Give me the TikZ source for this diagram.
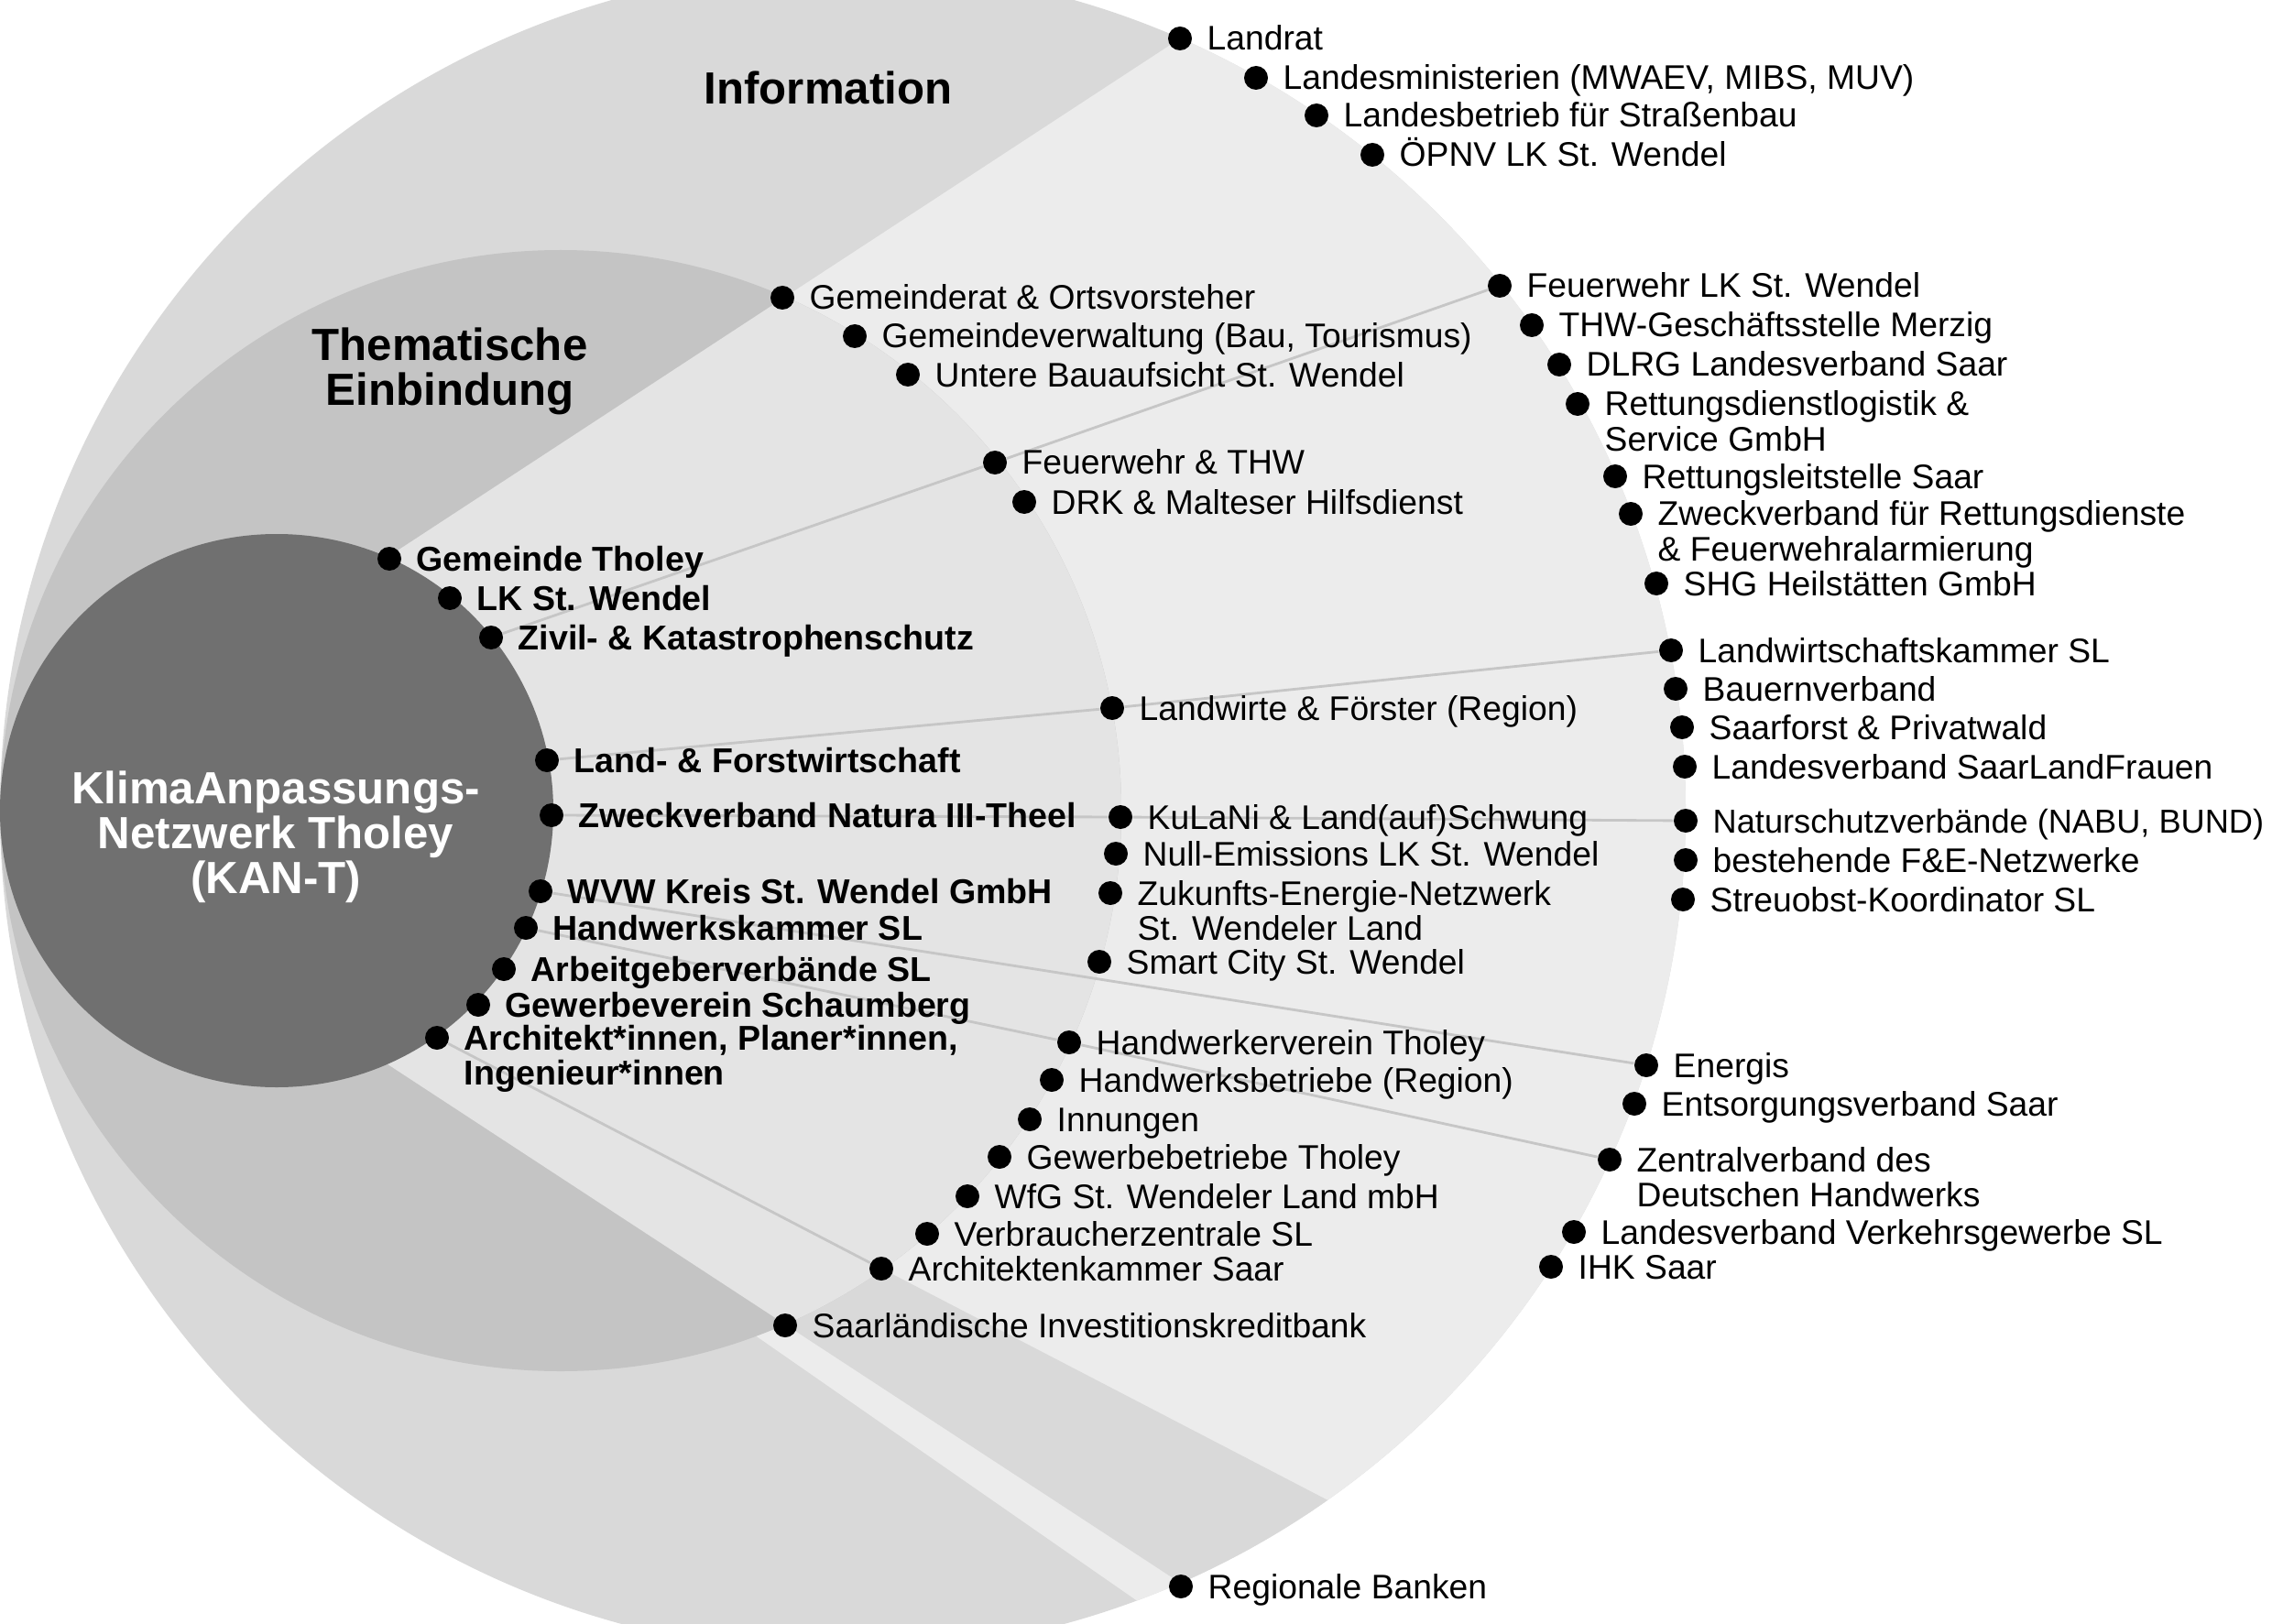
\documentclass[tikz,border=0pt]{standalone}
\usepackage{fontspec}
\setmainfont{Liberation Sans}

\definecolor{coregray}{HTML}{707070}
\definecolor{themgray}{HTML}{C4C4C4}
\definecolor{infogray}{HTML}{D9D9D9}
\definecolor{innersec}{HTML}{E4E4E4}
\definecolor{outersec}{HTML}{ECECEC}
\definecolor{linkgray}{HTML}{C6C6C6}

\newcommand{\lblfont}{\fontsize{10.6}{10.6}\selectfont}
\newcommand{\lblbfont}{\fontsize{10.7}{10.8}\selectfont\bfseries}
\newcommand{\ttlfont}{\fontsize{14}{13.9}\selectfont\bfseries}
\newcommand{\twolines}[2]{\begin{tabular}[t]{@{}l@{}}#1\\#2\end{tabular}}

\begin{document}
\begin{tikzpicture}[
    dot/.style={circle, fill=black, inner sep=0pt, minimum size=0.26cm},
    lbl/.style={anchor=base west, xshift=0.29cm, yshift=-0.13cm, inner sep=0pt, font=\lblfont},
    lblb/.style={lbl, font=\lblbfont},
    ttl/.style={align=center, inner sep=0pt, font=\ttlfont},
    link/.style={draw=linkgray, line width=0.8pt}
  ]
    \useasboundingbox (0,-8.87) rectangle (24.80,8.85);
    \clip (0,-8.87) rectangle (24.80,8.85);

    % Rings:
    % all three circles touch in (0,0), the sectors start there too
    \fill[infogray] (9.2,0) circle[radius=9.2];
    \begin{scope}
    \clip (9.2,0) circle[radius=9.2];
    \fill[outersec] (0,0) -- (33.2:30) -- (-34.8:30) -- cycle;
    \fill[infogray] (0,0) -- (-27.45:30) -- (-33.2:30) -- cycle;
    \end{scope}
    \fill[themgray] (6.12,0) circle[radius=6.12];
    \begin{scope}
    \clip (6.12,0) circle[radius=6.12];
    \fill[innersec] (0,0) -- (33.2:30) -- (-33.2:30) -- cycle;
    \end{scope}
    \fill[coregray] (3.02,0) circle[radius=3.02];

    % Titles:
    \node[ttl] (info) at (9.04,7.89) {Information};
    \node[ttl] (them) at (4.91,4.80) {Thematische\\Einbindung};
    \node[ttl, text=white] (kant) at (3.01,-0.29) {KlimaAnpassungs-\\Netzwerk Tholey\\(KAN-T)};

    % Points on the core:
    \node[dot] (gemtholey) at (4.25,2.75) {};
    \node[dot] (lkwnd) at (4.91,2.32) {};
    \node[dot] (zivil) at (5.36,1.89) {};
    \node[dot] (landforst) at (5.97,0.55) {};
    \node[dot] (natura) at (6.02,-0.05) {};
    \node[dot] (wvw) at (5.90,-0.88) {};
    \node[dot] (hwk) at (5.74,-1.28) {};
    \node[dot] (agv) at (5.50,-1.73) {};
    \node[dot] (gewerbev) at (5.22,-2.12) {};
    \node[dot] (archi) at (4.77,-2.48) {};

    % Points on the middle ring:
    \node[dot] (gemrat) at (8.54,5.60) {};
    \node[dot] (gemverw) at (9.33,5.18) {};
    \node[dot] (bauauf) at (9.91,4.76) {};
    \node[dot] (fwthw) at (10.86,3.80) {};
    \node[dot] (drk) at (11.18,3.37) {};
    \node[dot] (landwirte) at (12.14,1.12) {};
    \node[dot] (kulani) at (12.23,-0.07) {};
    \node[dot] (nullem) at (12.18,-0.47) {};
    \node[dot] (zukunft) at (12.12,-0.90) {};
    \node[dot] (smart) at (12.00,-1.65) {};
    \node[dot] (hwverein) at (11.67,-2.53) {};
    \node[dot] (hwbetr) at (11.48,-2.94) {};
    \node[dot] (innung) at (11.24,-3.37) {};
    \node[dot] (gewerbeb) at (10.91,-3.78) {};
    \node[dot] (wfg) at (10.56,-4.21) {};
    \node[dot] (vz) at (10.12,-4.62) {};
    \node[dot] (akammer) at (9.62,-5.00) {};
    \node[dot] (sikb) at (8.57,-5.62) {};

    % Points on the outer ring:
    \node[dot] (landrat) at (12.88,8.43) {};
    \node[dot] (landesmin) at (13.71,8.00) {};
    \node[dot] (strassen) at (14.37,7.59) {};
    \node[dot] (oepnv) at (14.98,7.16) {};
    \node[dot] (fwlk) at (16.37,5.73) {};
    \node[dot] (thw) at (16.72,5.30) {};
    \node[dot] (dlrg) at (17.02,4.87) {};
    \node[dot] (rdl) at (17.22,4.44) {};
    \node[dot] (rls) at (17.63,3.65) {};
    \node[dot] (zvr) at (17.80,3.24) {};
    \node[dot] (shg) at (18.08,2.48) {};
    \node[dot] (lwk) at (18.24,1.75) {};
    \node[dot] (bauern) at (18.29,1.33) {};
    \node[dot] (saarforst) at (18.36,0.91) {};
    \node[dot] (landfrauen) at (18.39,0.48) {};
    \node[dot] (natur) at (18.40,-0.11) {};
    \node[dot] (fue) at (18.40,-0.54) {};
    \node[dot] (streuobst) at (18.37,-0.97) {};
    \node[dot] (energis) at (17.97,-2.78) {};
    \node[dot] (evs) at (17.84,-3.20) {};
    \node[dot] (zdh) at (17.57,-3.81) {};
    \node[dot] (lvv) at (17.18,-4.60) {};
    \node[dot] (ihk) at (16.93,-4.98) {};
    \node[dot] (regbank) at (12.89,-8.47) {};

    % Links:
    \draw[link] (zivil) -- (fwthw) -- (fwlk);
    \draw[link] (landforst) -- (landwirte) -- (lwk);
    \draw[link] (natura) -- (kulani) -- (natur);
    \draw[link] (wvw) -- (energis);
    \draw[link] (hwk) -- (hwverein) -- (zdh);
    \draw[link] (archi) -- (akammer);

    % Labels, core:
    \node[lblb] (gemtholey-l) at (gemtholey.center) {Gemeinde Tholey};
    \node[lblb] (lkwnd-l) at (lkwnd.center) {LK St. Wendel};
    \node[lblb] (zivil-l) at (zivil.center) {Zivil- \& Katastrophenschutz};
    \node[lblb] (landforst-l) at (landforst.center) {Land- \& Forstwirtschaft};
    \node[lblb] (natura-l) at (natura.center) {Zweckverband Natura III-Theel};
    \node[lblb] (wvw-l) at (wvw.center) {WVW Kreis St. Wendel GmbH};
    \node[lblb] (hwk-l) at (hwk.center) {Handwerkskammer SL};
    \node[lblb] (agv-l) at (agv.center) {Arbeitgeberverbände SL};
    \node[lblb] (gewerbev-l) at (gewerbev.center) {Gewerbeverein Schaumberg};
    \node[lblb] (archi-l) at (archi.center) {\twolines{Architekt*innen, Planer*innen,}{Ingenieur*innen}};

    % Labels, middle ring:
    \node[lbl] (gemrat-l) at (gemrat.center) {Gemeinderat \& Ortsvorsteher};
    \node[lbl] (gemverw-l) at (gemverw.center) {Gemeindeverwaltung (Bau, Tourismus)};
    \node[lbl] (bauauf-l) at (bauauf.center) {Untere Bauaufsicht St. Wendel};
    \node[lbl] (fwthw-l) at (fwthw.center) {Feuerwehr \& THW};
    \node[lbl] (drk-l) at (drk.center) {DRK \& Malteser Hilfsdienst};
    \node[lbl] (landwirte-l) at (landwirte.center) {Landwirte \& Förster (Region)};
    \node[lbl] (kulani-l) at (kulani.center) {KuLaNi \& Land(auf)Schwung};
    \node[lbl] (nullem-l) at (nullem.center) {Null-Emissions LK St. Wendel};
    \node[lbl] (zukunft-l) at (zukunft.center) {\twolines{Zukunfts-Energie-Netzwerk}{St. Wendeler Land}};
    \node[lbl] (smart-l) at (smart.center) {Smart City St. Wendel};
    \node[lbl] (hwverein-l) at (hwverein.center) {Handwerkerverein Tholey};
    \node[lbl] (hwbetr-l) at (hwbetr.center) {Handwerksbetriebe (Region)};
    \node[lbl] (innung-l) at (innung.center) {Innungen};
    \node[lbl] (gewerbeb-l) at (gewerbeb.center) {Gewerbebetriebe Tholey};
    \node[lbl] (wfg-l) at (wfg.center) {WfG St. Wendeler Land mbH};
    \node[lbl] (vz-l) at (vz.center) {Verbraucherzentrale SL};
    \node[lbl] (akammer-l) at (akammer.center) {Architektenkammer Saar};
    \node[lbl] (sikb-l) at (sikb.center) {Saarländische Investitionskreditbank};

    % Labels, outer ring:
    \node[lbl] (landrat-l) at (landrat.center) {Landrat};
    \node[lbl] (landesmin-l) at (landesmin.center) {Landesministerien (MWAEV, MIBS, MUV)};
    \node[lbl] (strassen-l) at (strassen.center) {Landesbetrieb für Straßenbau};
    \node[lbl] (oepnv-l) at (oepnv.center) {ÖPNV LK St. Wendel};
    \node[lbl] (fwlk-l) at (fwlk.center) {Feuerwehr LK St. Wendel};
    \node[lbl] (thw-l) at (thw.center) {THW-Geschäftsstelle Merzig};
    \node[lbl] (dlrg-l) at (dlrg.center) {DLRG Landesverband Saar};
    \node[lbl] (rdl-l) at (rdl.center) {\twolines{Rettungsdienstlogistik \&}{Service GmbH}};
    \node[lbl] (rls-l) at (rls.center) {Rettungsleitstelle Saar};
    \node[lbl] (zvr-l) at (zvr.center) {\twolines{Zweckverband für Rettungsdienste}{\& Feuerwehralarmierung}};
    \node[lbl] (shg-l) at (shg.center) {SHG Heilstätten GmbH};
    \node[lbl] (lwk-l) at (lwk.center) {Landwirtschaftskammer SL};
    \node[lbl] (bauern-l) at (bauern.center) {Bauernverband};
    \node[lbl] (saarforst-l) at (saarforst.center) {Saarforst \& Privatwald};
    \node[lbl] (landfrauen-l) at (landfrauen.center) {Landesverband SaarLandFrauen};
    \node[lbl, font=\fontsize{10.3}{10.6}\selectfont] (natur-l) at (natur.center) {Naturschutzverbände (NABU, BUND)};
    \node[lbl] (fue-l) at (fue.center) {bestehende F\&E-Netzwerke};
    \node[lbl] (streuobst-l) at (streuobst.center) {Streuobst-Koordinator SL};
    \node[lbl] (energis-l) at (energis.center) {Energis};
    \node[lbl] (evs-l) at (evs.center) {Entsorgungsverband Saar};
    \node[lbl] (zdh-l) at (zdh.center) {\twolines{Zentralverband des}{Deutschen Handwerks}};
    \node[lbl] (lvv-l) at (lvv.center) {Landesverband Verkehrsgewerbe SL};
    \node[lbl] (ihk-l) at (ihk.center) {IHK Saar};
    \node[lbl] (regbank-l) at (regbank.center) {Regionale Banken};
\end{tikzpicture}
\end{document}
